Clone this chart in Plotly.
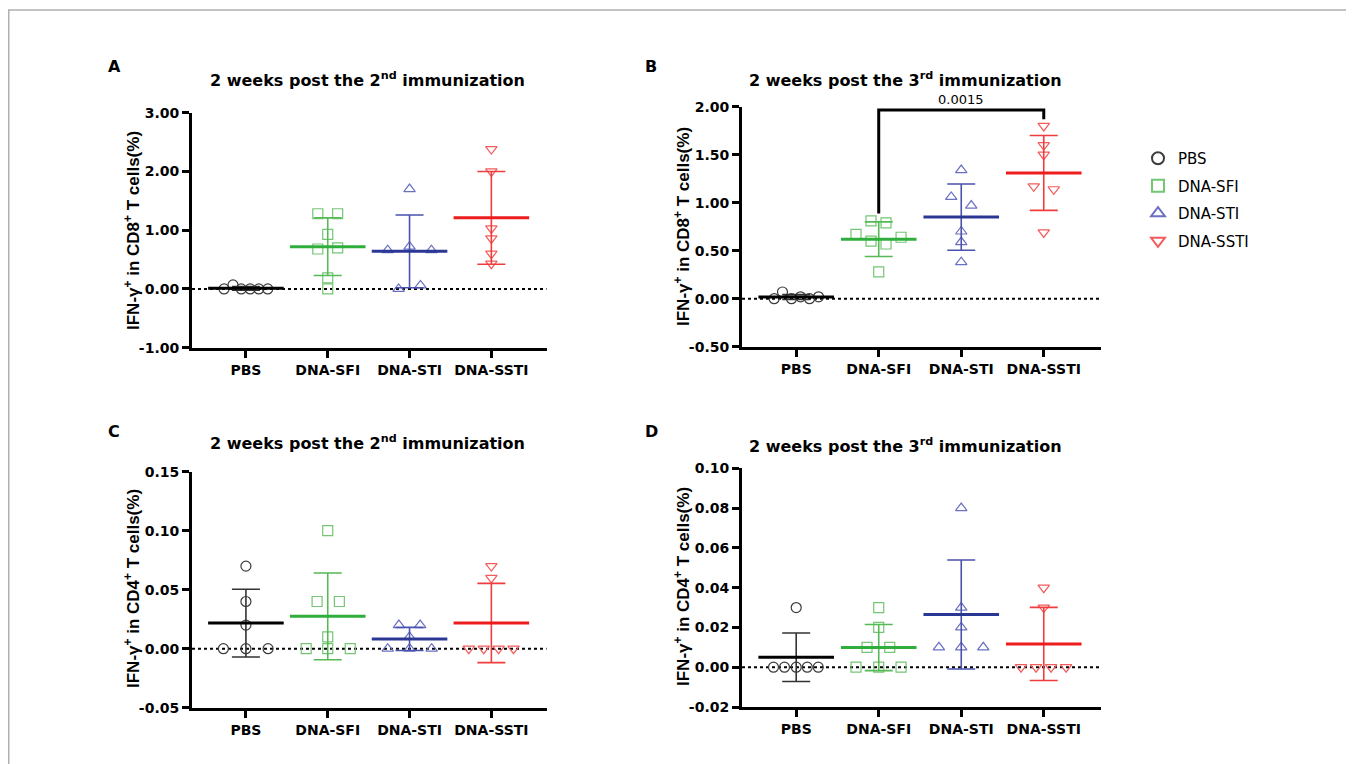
import plotly.graph_objects as go

# ---------------- data ----------------
groups = ["PBS", "DNA-SFI", "DNA-STI", "DNA-SSTI"]

# Panel A: CD8+, 2 weeks post 2nd immunization
a_pbs = [0.0, 0.07, 0.0, 0.0, 0.0, 0.0]
a_sfi = [1.28, 1.28, 0.93, 0.68, 0.70, 0.19, 0.0]
a_sti = [0.66, 0.72, 0.66, 1.70, 0.0, 0.06]
a_ssti = [2.38, 2.00, 1.03, 0.86, 0.60, 0.43]
a_mean = [0.01, 0.72, 0.64, 1.21]
a_sd = [0.03, 0.49, 0.62, 0.79]

# Panel B: CD8+, 2 weeks post 3rd immunization
b_pbs = [0.0, 0.07, 0.0, 0.02, 0.0, 0.02]
b_sfi = [0.81, 0.79, 0.67, 0.64, 0.60, 0.57, 0.28]
b_sti = [1.34, 1.06, 0.97, 0.70, 0.59, 0.38]
b_ssti = [1.80, 1.60, 1.50, 1.17, 1.14, 0.69]
b_mean = [0.017, 0.62, 0.85, 1.31]
b_sd = [0.025, 0.18, 0.345, 0.39]

# Panel C: CD4+, 2 weeks post 2nd immunization
c_pbs = [0.07, 0.04, 0.02, 0.0, 0.0, 0.0]
c_sfi = [0.10, 0.04, 0.04, 0.01, 0.0, 0.0, 0.0]
c_sti = [0.02, 0.02, 0.01, 0.0, 0.0, 0.0]
c_ssti = [0.07, 0.06, 0.0, 0.0, 0.0, 0.0]
c_mean = [0.0217, 0.0274, 0.0083, 0.0218]
c_sd = [0.0287, 0.0368, 0.0098, 0.0336]

# Panel D: CD4+, 2 weeks post 3rd immunization
d_pbs = [0.03, 0.0, 0.0, 0.0, 0.0, 0.0]
d_sfi = [0.03, 0.02, 0.01, 0.01, 0.0, 0.0, 0.0]
d_sti = [0.08, 0.03, 0.02, 0.01, 0.01, 0.01]
d_ssti = [0.04, 0.03, 0.0, 0.0, 0.0, 0.0]
d_mean = [0.005, 0.0099, 0.0265, 0.0117]
d_sd = [0.0122, 0.0116, 0.0274, 0.0184]

# significance annotation (panel B)
sig_pair = [1, 3]
sig_top = 1.965
sig_legs = [0.887, 1.87]
sig_label = "0.0015"

# ---------------- layout / style ----------------
# page body has an 8px margin; positions below are page pixels
OX, OY = 8, 8
W, H = 1346, 756


def px(x):
    return (x - OX) / W


def py(y):
    return 1 - (y - OY) / H


PXCAT = 82.4
jit = {
    "A": [[-22, -13, -4.7, 4.3, 13, 22], [-10, 10, 0, -10, 10, 0, 0],
          [-22, 0, 22, 0, -11, 11], [0, 0, 0, 0, 0, 0]],
    "B": [[-22, -13.7, -4.7, 4.3, 13.3, 22.3], [-7.7, 7.3, -22.7, 22.3, -7.7, 7.3, 0],
          [0, -10, 10, 0, 0, 0], [0, 0, 0, -10, 10, 0]],
    "C": [[0, 0, 0, -22.7, 0, 22.3], [0, -10.7, 11.7, 0, -21.7, 0, 22.7],
          [-10.7, 10.7, 0, -22, 0, 22.3], [0, 0, -22.7, -7.7, 7.3, 22.3]],
    "D": [[0, -22.7, -11.7, 0, 11, 22], [0, 0, -11.7, 11, -22.7, 0, 22.3],
          [0, 0, 0, -22.3, 0, 22], [0, 0, -22.7, -7.7, 7.3, 22.3]],
}
symbols = ["circle-open", "square-open", "triangle-up-open", "triangle-down-open"]
pt_colors = ["#3c3c3c", "#74c574", "#6a70c2", "#f25c5c"]
mean_colors = ["#000000", "#2fae3c", "#2b3795", "#ee1d1d"]
err_colors = ["#333333", "#55b955", "#4a52ae", "#f03c3c"]

panels = {
    "A": dict(vals=[a_pbs, a_sfi, a_sti, a_ssti], mean=a_mean, sd=a_sd, ax="",
              ticks=[-1, 0, 1, 2, 3], rng=[-1, 3],
              xd=[192, 546.5], yd=[112.7, 347.7], xr=[-0.659, 3.674]),
    "B": dict(vals=[b_pbs, b_sfi, b_sti, b_ssti], mean=b_mean, sd=b_sd, ax="2",
              ticks=[-0.5, 0, 0.5, 1.0, 1.5, 2.0], rng=[-0.5, 2.0],
              xd=[742, 1100.7], yd=[106.7, 346.7], xr=[-0.657, 3.69]),
    "C": dict(vals=[c_pbs, c_sfi, c_sti, c_ssti], mean=c_mean, sd=c_sd, ax="3",
              ticks=[-0.05, 0, 0.05, 0.10, 0.15], rng=[-0.05, 0.15],
              xd=[192, 546.5], yd=[471.7, 707.7], xr=[-0.659, 3.674]),
    "D": dict(vals=[d_pbs, d_sfi, d_sti, d_ssti], mean=d_mean, sd=d_sd, ax="4",
              ticks=[-0.02, 0, 0.02, 0.04, 0.06, 0.08, 0.10], rng=[-0.02, 0.10],
              xd=[742, 1100.7], yd=[468.3, 707.0], xr=[-0.657, 3.69]),
}

HFONT = "DejaVu Sans"
VFONT = "Liberation Sans, Arial"

fig = go.Figure()

for key, p in panels.items():
    xa = "x" + p["ax"]
    ya = "y" + p["ax"]
    for gi, vals in enumerate(p["vals"]):
        xs = [gi + o / PXCAT for o in jit[key][gi]]
        fig.add_trace(go.Scatter(
            x=xs, y=vals, mode="markers", xaxis=xa, yaxis=ya,
            name=groups[gi], showlegend=(key == "A"), legendgroup=groups[gi],
            marker=dict(symbol=symbols[gi], size=10, color=pt_colors[gi],
                        line=dict(width=1.2, color=pt_colors[gi])),
            cliponaxis=False, hoverinfo="skip"))
    for gi in range(4):
        fig.add_trace(go.Scatter(
            x=[gi], y=[p["mean"][gi]], mode="markers", xaxis=xa, yaxis=ya,
            showlegend=False,
            marker=dict(symbol="line-ew", size=54, color=mean_colors[gi],
                        line=dict(width=3, color=mean_colors[gi])),
            error_y=dict(type="data", array=[p["sd"][gi]], visible=True,
                         color=err_colors[gi], thickness=1.6, width=14),
            cliponaxis=False, hoverinfo="skip"))

    xkey = "xaxis" + p["ax"]
    ykey = "yaxis" + p["ax"]
    fig.update_layout(**{
        xkey: dict(domain=[px(p["xd"][0]), px(p["xd"][1])], range=p["xr"],
                   anchor=ya, tickvals=[0, 1, 2, 3], ticktext=groups,
                   showline=True, linewidth=3, linecolor="black",
                   ticks="outside", ticklen=7, tickwidth=3, tickcolor="black",
                   showgrid=False, zeroline=False, ticklabelstandoff=0,
                   tickfont=dict(family=HFONT, size=14, color="black", weight="bold")),
        ykey: dict(domain=[py(p["yd"][1]), py(p["yd"][0])], range=p["rng"],
                   anchor=xa, tickvals=p["ticks"],
                   ticktext=["%.2f" % t for t in p["ticks"]],
                   showline=True, linewidth=3, linecolor="black",
                   ticks="outside", ticklen=7, tickwidth=3, tickcolor="black",
                   showgrid=False, zeroline=False, ticklabelstandoff=0,
                   tickfont=dict(family=HFONT, size=14, color="black", weight="bold")),
    })
    fig.add_shape(type="line", xref=xa + " domain", yref=ya, x0=0, x1=1, y0=0, y1=0,
                  line=dict(color="black", width=2, dash="dot"), layer="below")

# significance bracket on panel B
fig.add_shape(type="path", xref="x2", yref="y2",
              path=f"M {sig_pair[0]},{sig_legs[0]} L {sig_pair[0]},{sig_top} "
                   f"L {sig_pair[1]},{sig_top} L {sig_pair[1]},{sig_legs[1]}",
              line=dict(color="black", width=3))
fig.add_annotation(xref="x2", yref="y2", x=(sig_pair[0] + sig_pair[1]) / 2, y=sig_top,
                   text=sig_label, showarrow=False, yanchor="bottom", yshift=1,
                   font=dict(family=HFONT, size=13, color="black"))

titles = [
    ("A", 114, 67, 367.5, 79, "2 weeks post the 2<sup>nd</sup> immunization",
     132, 231, "IFN-γ<sup>+</sup> in CD8<sup>+</sup> T cells(%)"),
    ("B", 651, 67, 905, 79, "2 weeks post the 3<sup>rd</sup> immunization",
     682, 227, "IFN-γ<sup>+</sup> in CD8<sup>+</sup> T cells(%)"),
    ("C", 114, 431, 367.5, 443, "2 weeks post the 2<sup>nd</sup> immunization",
     132, 589, "IFN-γ<sup>+</sup> in CD4<sup>+</sup> T cells(%)"),
    ("D", 651, 431, 905, 445, "2 weeks post the 3<sup>rd</sup> immunization",
     682, 587, "IFN-γ<sup>+</sup> in CD4<sup>+</sup> T cells(%)"),
]
for letter, lx, ly, tx, ty, ttxt, yx, yy, ytxt in titles:
    fig.add_annotation(xref="paper", yref="paper", x=px(lx), y=py(ly), text=letter,
                       showarrow=False, xanchor="center", yanchor="middle",
                       font=dict(family=HFONT, size=16, color="black", weight="bold"))
    fig.add_annotation(xref="paper", yref="paper", x=px(tx), y=py(ty), text=ttxt,
                       showarrow=False, xanchor="center", yanchor="middle",
                       font=dict(family=HFONT, size=16, color="black", weight="bold"))
    fig.add_annotation(xref="paper", yref="paper", x=px(yx), y=py(yy), text=ytxt,
                       showarrow=False, textangle=-90, xanchor="center", yanchor="middle",
                       font=dict(family=VFONT, size=17, color="black", weight="bold"))

# outer frame
fig.add_shape(type="rect", xref="paper", yref="paper", x0=px(8.75), x1=px(1353),
              y0=-0.05, y1=py(10), line=dict(color="#b0b0b0", width=1.5))

fig.update_layout(
    width=W, height=H, margin=dict(l=0, r=0, t=0, b=0),
    template="none", paper_bgcolor="white", plot_bgcolor="white",
    showlegend=True,
    legend=dict(x=px(1138), y=py(142), xanchor="left", yanchor="top",
                font=dict(family=HFONT, size=15, color="black"),
                bgcolor="rgba(0,0,0,0)", tracegroupgap=5, itemsizing="constant"),
)

fig.write_html("out.html")
